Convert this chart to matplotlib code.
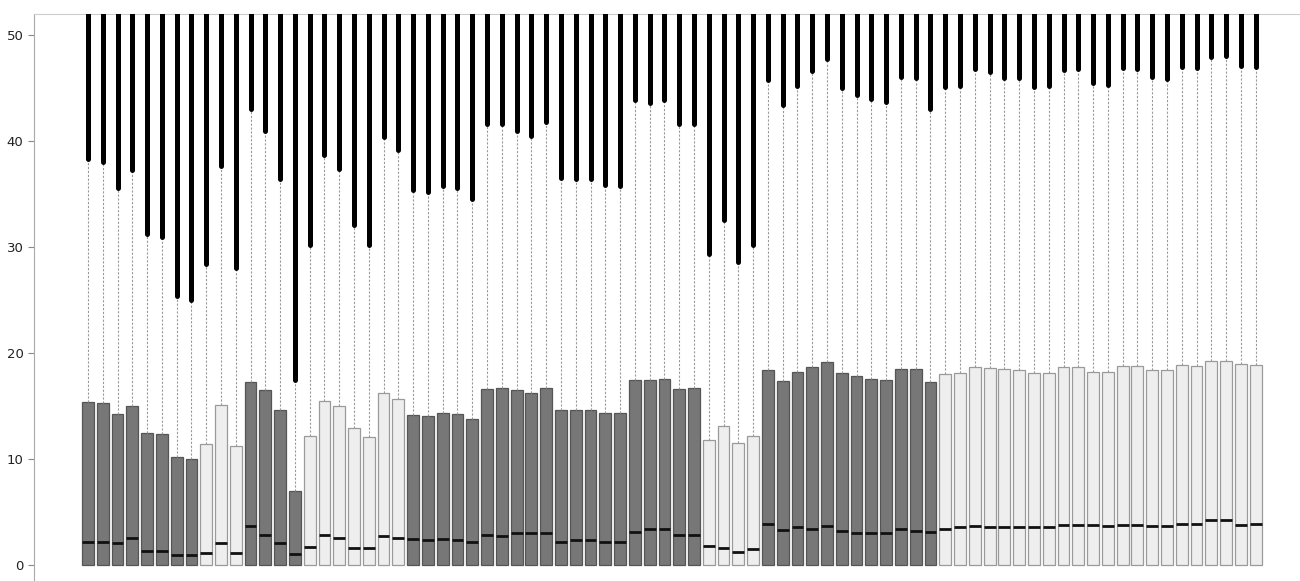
import matplotlib
matplotlib.use("Agg")
import matplotlib.pyplot as plt
import numpy as np

# Data (80 groups)
q3 = [15.4, 15.3, 14.3, 15.0, 12.5, 12.4, 10.2, 10.0, 11.4, 15.1,
      11.2, 17.3, 16.5, 14.6, 7.0, 12.15, 15.5, 15.0, 12.9, 12.1,
      16.2, 15.7, 14.2, 14.1, 14.35, 14.3, 13.8, 16.6, 16.7, 16.5,
      16.2, 16.7, 14.6, 14.6, 14.6, 14.35, 14.35, 17.5, 17.5, 17.6,
      16.6, 16.7, 11.8, 13.1, 11.5, 12.15, 18.4, 17.4, 18.2, 18.7,
      19.2, 18.1, 17.8, 17.6, 17.5, 18.5, 18.5, 17.3, 18.0, 18.1,
      18.7, 18.6, 18.5, 18.45, 18.1, 18.1, 18.7, 18.7, 18.2, 18.2,
      18.8, 18.8, 18.45, 18.4, 18.9, 18.8, 19.25, 19.25, 18.95, 18.9]
medians = [2.2, 2.2, 2.1, 2.6, 1.3, 1.3, 1.0, 0.95, 1.1, 2.1,
           1.1, 3.7, 2.8, 2.1, 1.05, 1.7, 2.8, 2.6, 1.65, 1.65,
           2.7, 2.6, 2.45, 2.4, 2.45, 2.4, 2.2, 2.8, 2.7, 3.05,
           3.05, 3.0, 2.2, 2.35, 2.4, 2.15, 2.15, 3.1, 3.4, 3.4,
           2.85, 2.85, 1.8, 1.65, 1.2, 1.5, 3.85, 3.3, 3.6, 3.45,
           3.7, 3.25, 3.0, 3.0, 3.0, 3.45, 3.2, 3.1, 3.4, 3.55,
           3.65, 3.6, 3.6, 3.6, 3.55, 3.55, 3.75, 3.8, 3.75, 3.7,
           3.8, 3.8, 3.7, 3.7, 3.9, 3.9, 4.3, 4.3, 3.8, 3.9]
whisker_hi = [38.3, 38.0, 35.6, 37.3, 31.2, 31.0, 25.4, 25.0, 28.4, 37.7,
              28.0, 43.0, 41.0, 36.4, 17.5, 30.2, 38.7, 37.4, 32.1, 30.2,
              40.4, 39.2, 35.4, 35.2, 35.8, 35.6, 34.5, 41.6, 41.6, 41.0,
              40.5, 41.8, 36.5, 36.4, 36.4, 35.9, 35.8, 43.9, 43.6, 43.9,
              41.6, 41.6, 29.4, 32.6, 28.6, 30.2, 45.8, 43.4, 45.2, 46.6,
              47.8, 45.0, 44.4, 44.0, 43.7, 46.1, 46.0, 43.0, 45.1, 45.2,
              46.8, 46.5, 46.0, 46.0, 45.1, 45.2, 46.7, 46.8, 45.5, 45.3,
              46.9, 46.8, 46.1, 45.9, 47.0, 46.9, 47.9, 48.0, 47.1, 47.0]
# group type: 1 = dark box, 0 = light box
group_type = [1]*8 + [0]*3 + [1]*4 + [0]*7 + [1]*20 + [0]*4 + [1]*12 + [0]*22
q1 = [0.0]*80
outlier_top = 60.0  # outliers continue beyond the visible range

fig = plt.figure(figsize=(13, 5.81), dpi=100)
ax = fig.add_axes([34/1300, 0.0, 1 - 34/1300, 1 - 14/581])

n = len(q3)
pos = np.arange(n)

dark_face, dark_edge = "#777777", "#555555"
light_face, light_edge = "#eeeeee", "#9a9a9a"

stats = []
for i in range(n):
    stats.append(dict(med=medians[i], q1=q1[i], q3=q3[i],
                      whislo=q1[i], whishi=whisker_hi[i], fliers=[]))

for kind, face, edge in [(1, dark_face, dark_edge), (0, light_face, light_edge)]:
    idx = [i for i in range(n) if group_type[i] == kind]
    ax.bxp([stats[i] for i in idx], positions=pos[idx], widths=0.8,
           patch_artist=True, showcaps=False, showfliers=False,
           boxprops=dict(facecolor=face, edgecolor=edge, linewidth=0.9),
           medianprops=dict(color="#111111", linewidth=2.0, solid_capstyle="butt"),
           whiskerprops=dict(color="#9a9a9a", linewidth=0.8, linestyle=(0, (2, 1.5))),
           zorder=2)

# dense outliers drawn as thick lines
ax.vlines(pos, whisker_hi, outlier_top, colors="black", linewidth=3.6, zorder=3,
          capstyle="round")

ax.set_xlim(-3.65, 82.0)
ax.set_ylim(-1.5, 52.0)
ax.set_yticks([0, 10, 20, 30, 40, 50])
ax.set_xticks([])
for s in ["right", "bottom"]:
    ax.spines[s].set_visible(False)
ax.spines["top"].set_color("#cccccc")
ax.spines["left"].set_color("#aaaaaa")
ax.tick_params(axis="y", colors="#888888", labelcolor="#222222", labelsize=9.5,
               length=4, width=0.8)

fig.savefig("out.png", dpi=100)
